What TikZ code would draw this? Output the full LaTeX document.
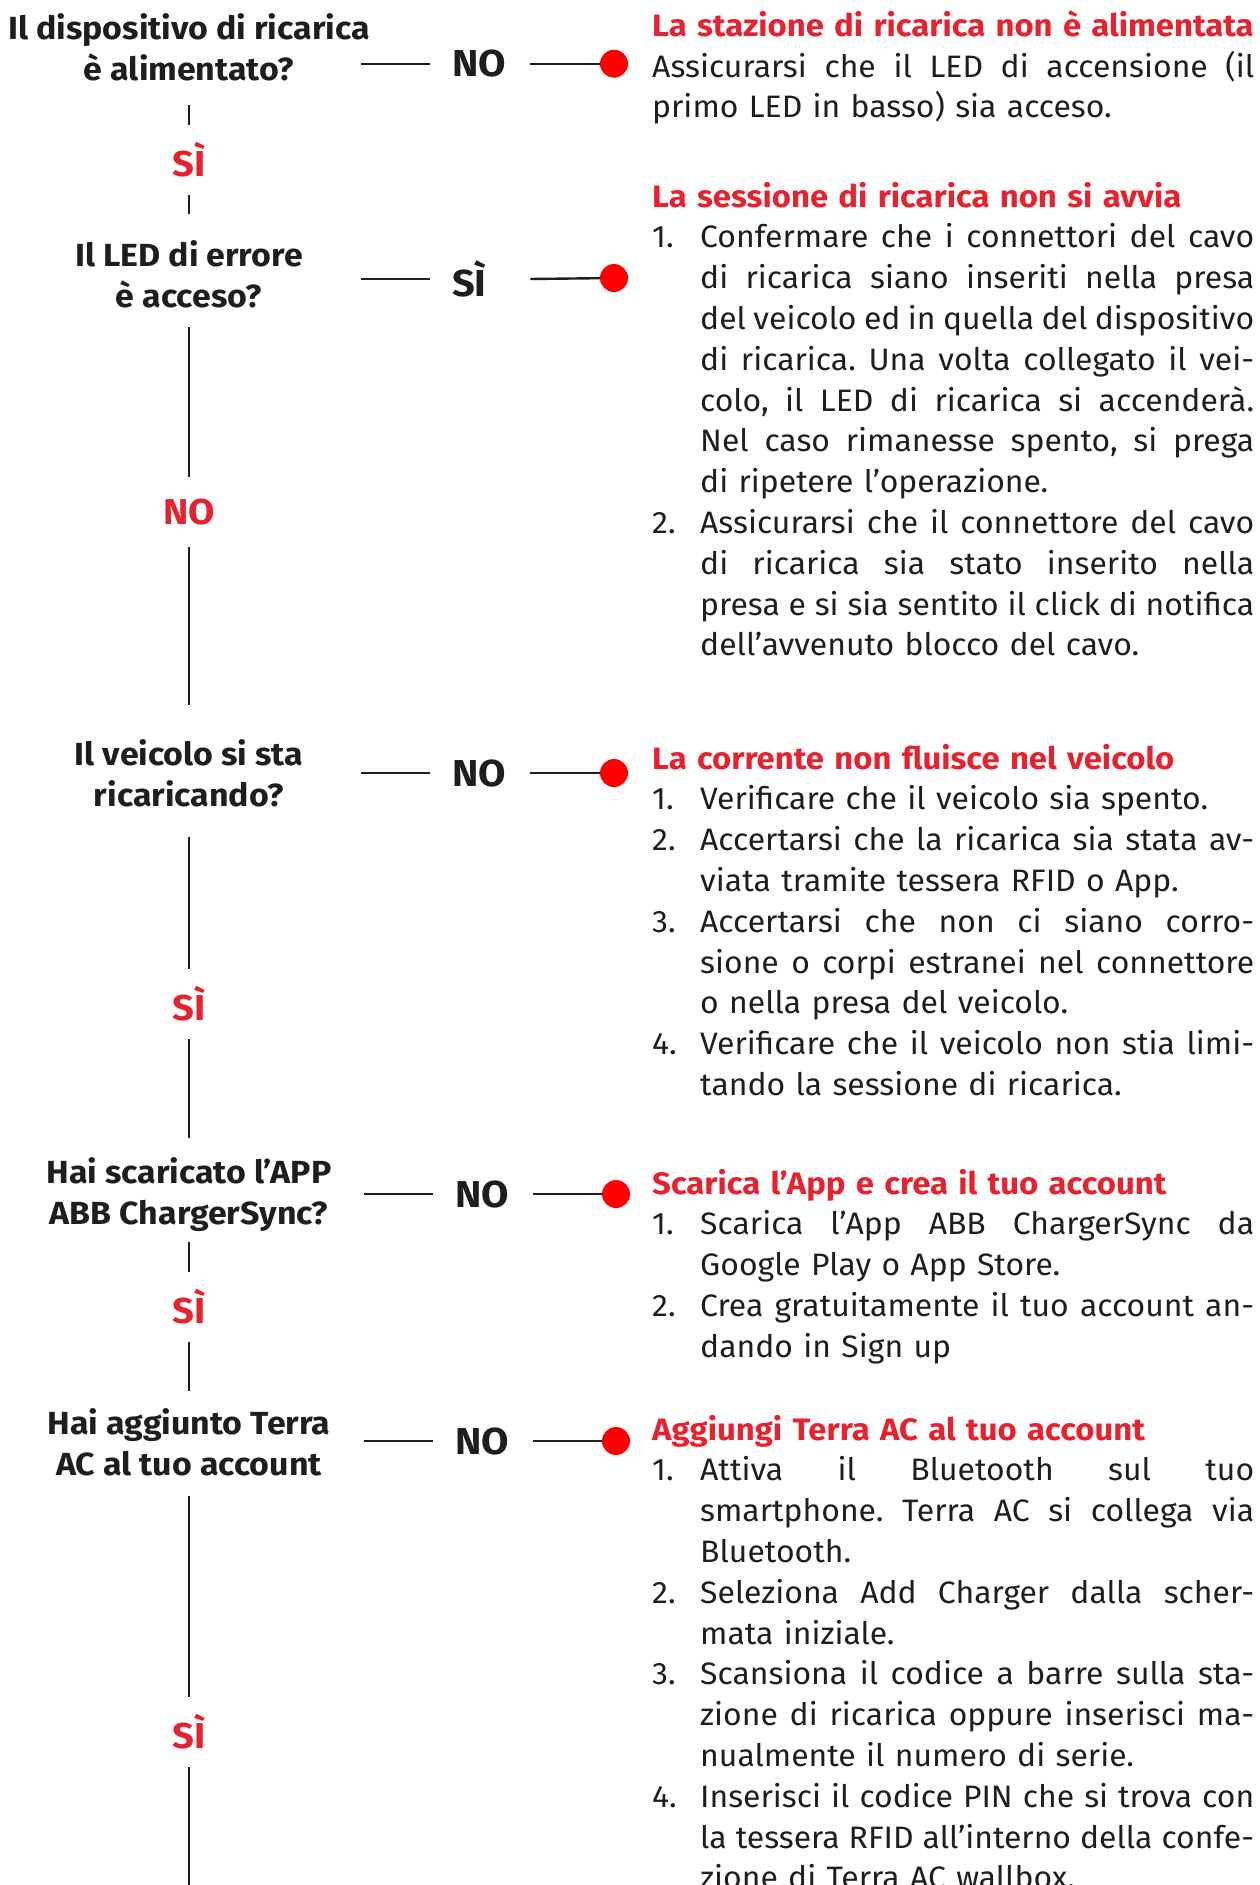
\documentclass[tikz,border=0pt]{standalone}
\usepackage{fontspec}
\setmainfont{Fira Sans}[FakeStretch=1.03,BoldFeatures={FakeStretch=1.06}]
\usepackage{xcolor}
\usetikzlibrary{positioning}
\definecolor{abbred}{HTML}{E8212E}
\definecolor{dotred}{HTML}{FF0000}
\definecolor{ink}{HTML}{1E1E1E}
\setlength{\parindent}{0pt}
\frenchspacing
\newcommand{\js}[1]{\leavevmode\hbox to 554pt{\spaceskip=\fontdimen2\font plus 1fill minus .4\fontdimen2\font\relax #1}}
\newcommand{\fullj}[1]{\leavevmode\hbox to 602pt{\spaceskip=\fontdimen2\font plus 1fill minus .4\fontdimen2\font\relax #1}}
\newcommand{\nitem}[2]{\makebox[48pt][l]{#1}#2}
\newcommand{\rtitle}[1]{\strut\textcolor{abbred}{\bfseries #1}}

\begin{document}
\begin{tikzpicture}[x=1pt,y=-1pt]
	\tikzstyle{question}=[anchor=north,align=center,inner sep=0pt,text=ink,font=\fontsize{32}{40.8}\selectfont\bfseries]
	\tikzstyle{answer}=[anchor=west,text width=56pt,inner xsep=22pt,inner ysep=0pt,align=left,text=ink,font=\fontsize{37.5}{40}\selectfont\bfseries]
	\tikzstyle{branch}=[minimum height=70pt,inner sep=0pt,text=abbred,font=\fontsize{36}{40}\selectfont\bfseries]
	\tikzstyle{dot}=[circle,fill=dotred,minimum size=28pt,inner sep=0pt]
	\tikzstyle{info}=[anchor=north west,text width=602pt,inner sep=0pt,align=left,text=ink,font=\fontsize{31}{40.8}\selectfont]
	\tikzstyle{link}=[line width=2.4pt,draw=ink]
	\useasboundingbox (0,0) rectangle (1259,1885);

	\node[question](q1) at (189,11) {\strut Il dispositivo di ricarica\\è alimentato?\strut};
	\node[question](q2) at (189,238) {\strut Il LED di errore\\è acceso?\strut};
	\node[question](q3) at (189,737) {\strut Il veicolo si sta\\ricaricando?\strut};
	\node[question](q4) at (189,1155) {\strut Hai scaricato l’APP\\ABB ChargerSync?\strut};
	\node[question](q5) at (189,1406) {\strut Hai aggiunto Terra\\AC al tuo account\strut};

	\node[branch](s1) at (189,160) {SÌ};
	\node[branch](s2) at (189,512) {NO};
	\node[branch](s3) at (189,1004) {SÌ};
	\node[branch](s4) at (189,1307) {SÌ};
	\node[branch](s5) at (189,1732) {SÌ};
	\coordinate (bottom) at (189,1885);

	\node[answer](a1) at (430,63.7) {NO};
	\node[answer](a2) at (430,279) {SÌ};
	\node[answer](a3) at (430,773) {NO};
	\node[answer](a4) at (433,1194) {NO};
	\node[answer](a5) at (433,1441) {NO};

	\node[dot](d1) at (614,63.7) {};
	\node[dot](d2) at (614,278) {};
	\node[dot](d3) at (614,773) {};
	\node[dot](d4) at (616,1194) {};
	\node[dot](d5) at (616,1441) {};

	\path[link]
		(q1) edge[shorten <=12pt] (s1)
		(s1) edge[shorten >=24pt] (q2)
		(q2) edge[shorten <=7pt] (s2)
		(s2) edge[shorten >=32pt] (q3)
		(q3) edge[shorten <=18pt] (s3)
		(s3) edge[shorten >=17pt] (q4)
		(q4) edge[shorten <=5pt] (s4)
		(s4) edge[shorten >=15pt] (q5)
		(q5) edge[shorten <=8pt] (s5)
		(s5) edge (bottom);

	\foreach \i in {1,...,5} {
		\draw[link] ([xshift=-69pt]a\i.west) -- (a\i.west);
		\draw[link] (a\i.east) -- (d\i);
	}

	\node[info](i1) at (652,7.5) {\rtitle{La stazione di ricarica non è alimentata}\\
		\fullj{Assicurarsi che il LED di accensione (il}\\
		primo LED in basso) sia acceso.};
	\node[info](i2) at (652,178.4) {\rtitle{La sessione di ricarica non si avvia}\\
		\nitem{1.}{\js{Confermare che i connettori del cavo}}\\
		\nitem{}{\js{di ricarica siano inseriti nella presa}}\\
		\nitem{}{\js{del veicolo ed in quella del dispositivo}}\\
		\nitem{}{\js{di ricarica. Una volta collegato il vei-}}\\
		\nitem{}{\js{colo, il LED di ricarica si accenderà.}}\\
		\nitem{}{\js{Nel caso rimanesse spento, si prega}}\\
		\nitem{}{di ripetere l’operazione.}\\
		\nitem{2.}{\js{Assicurarsi che il connettore del cavo}}\\
		\nitem{}{\js{di ricarica sia stato inserito nella}}\\
		\nitem{}{\js{presa e si sia sentito il click di notifica}}\\
		\nitem{}{dell’avvenuto blocco del cavo.}};
	\node[info](i3) at (652,740.4) {\rtitle{La corrente non fluisce nel veicolo}\\
		\nitem{1.}{Verificare che il veicolo sia spento.}\\
		\nitem{2.}{\js{Accertarsi che la ricarica sia stata av-}}\\
		\nitem{}{viata tramite tessera RFID o App.}\\
		\nitem{3.}{\js{Accertarsi che non ci siano corro-}}\\
		\nitem{}{\js{sione o corpi estranei nel connettore}}\\
		\nitem{}{o nella presa del veicolo.}\\
		\nitem{4.}{\js{Verificare che il veicolo non stia limi-}}\\
		\nitem{}{tando la sessione di ricarica.}};
	\node[info](i4) at (652,1165.4) {\rtitle{Scarica l’App e crea il tuo account}\\
		\nitem{1.}{\js{Scarica l’App ABB ChargerSync da}}\\
		\nitem{}{Google Play o App Store.}\\
		\nitem{2.}{\js{Crea gratuitamente il tuo account an-}}\\
		\nitem{}{dando in Sign up}};
	\node[info](i5) at (652,1411.4) {\rtitle{Aggiungi Terra AC al tuo account}\\
		\nitem{1.}{\js{Attiva il Bluetooth sul tuo}}\\
		\nitem{}{\js{smartphone. Terra AC si collega via}}\\
		\nitem{}{Bluetooth.}\\
		\nitem{2.}{\js{Seleziona Add Charger dalla scher-}}\\
		\nitem{}{mata iniziale.}\\
		\nitem{3.}{\js{Scansiona il codice a barre sulla sta-}}\\
		\nitem{}{\js{zione di ricarica oppure inserisci ma-}}\\
		\nitem{}{nualmente il numero di serie.}\\
		\nitem{4.}{\js{Inserisci il codice PIN che si trova con}}\\
		\nitem{}{\js{la tessera RFID all’interno della confe-}}\\
		\nitem{}{zione di Terra AC wallbox.}};
\end{tikzpicture}
\end{document}
